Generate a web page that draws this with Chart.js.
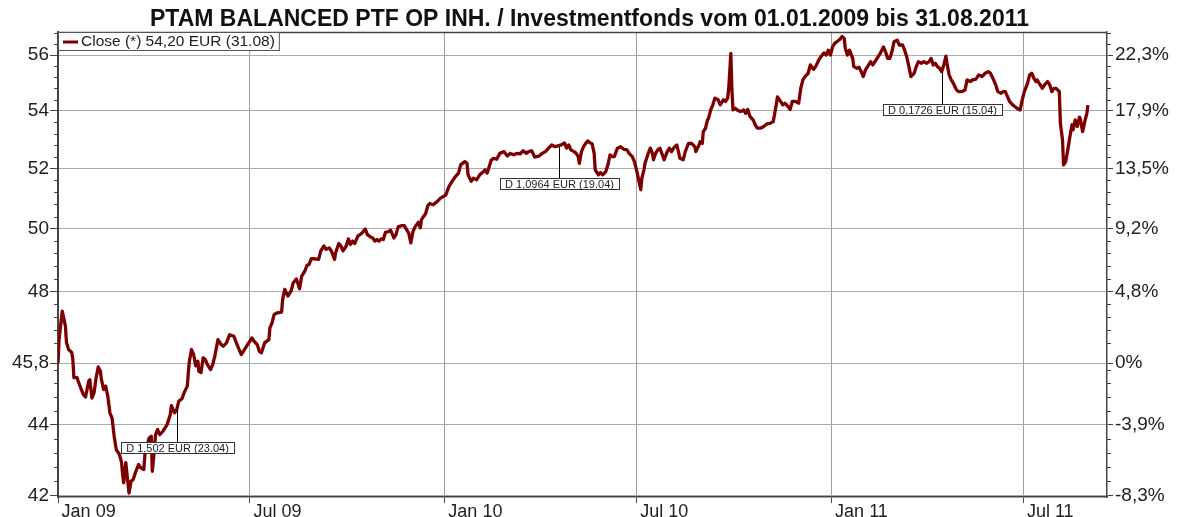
<!DOCTYPE html>
<html>
<head>
<meta charset="utf-8">
<script src="https://cdn.jsdelivr.net/npm/chart.js@4.4.1/dist/chart.umd.min.js"></script>
<style>
  html, body { margin: 0; padding: 0; background: #fff; }
  #wrap { width: 1179px; height: 517px; }
</style>
</head>
<body>
<div id="wrap"><canvas id="fundChart"></canvas></div>
<script>
// days counted from 01.01.2009, close in EUR
const days = [
  0, 1, 4, 7, 8, 10, 13, 14, 15, 18, 19, 22, 24, 26, 29, 30, 32, 34, 36, 38, 40, 41, 43, 45, 47, 49, 51, 53, 55, 58,
  60, 61, 62, 64, 66, 67, 69, 71, 73, 76, 78, 81, 82, 84, 86, 88, 89, 91, 92, 94, 96, 99, 103, 106, 107, 110, 112, 114, 117, 119,
  122, 123, 124, 126, 128, 130, 132, 133, 135, 137, 139, 141, 144, 146, 148, 151, 154, 156, 159, 162, 166, 169, 171, 173, 176, 178, 181, 183, 185, 188,
  190, 192, 195, 199, 200, 202, 204, 207, 211, 212, 214, 217, 220, 222, 225, 228, 230, 233, 235, 237, 239, 242, 246, 248, 251, 253, 256, 258, 261, 262,
  265, 267, 269, 272, 274, 276, 278, 280, 283, 285, 287, 290, 292, 295, 297, 299, 301, 303, 305, 307, 309, 312, 314, 317, 319, 321, 324, 327, 329, 331,
  333, 335, 337, 340, 342, 343, 347, 349, 351, 354, 358, 361, 364, 366, 369, 372, 375, 378, 380, 384, 386, 387, 390, 392, 395, 398, 400, 403, 405, 406,
  409, 411, 414, 417, 421, 424, 427, 430, 433, 436, 439, 442, 444, 447, 450, 454, 457, 460, 463, 466, 469, 472, 475, 478, 480, 482, 484, 487, 489, 491,
  492, 494, 496, 498, 500, 502, 504, 506, 507, 510, 512, 514, 517, 519, 521, 523, 525, 528, 531, 534, 537, 539, 542, 544, 546, 548, 550, 551, 553, 554,
  557, 559, 561, 562, 564, 566, 568, 571, 572, 575, 577, 579, 582, 584, 587, 590, 592, 595, 598, 601, 602, 605, 606, 608, 609, 611, 613, 614, 616, 618,
  620, 623, 625, 628, 630, 632, 633, 635, 636, 637, 639, 641, 644, 647, 649, 651, 653, 656, 658, 660, 663, 666, 669, 672, 675, 677, 679, 682, 684, 686,
  689, 691, 693, 696, 699, 701, 703, 705, 708, 710, 713, 715, 718, 720, 723, 725, 727, 729, 731, 733, 735, 738, 740, 742, 743, 745, 747, 750, 751, 754,
  756, 758, 760, 762, 764, 767, 769, 772, 774, 776, 779, 781, 783, 785, 787, 789, 792, 794, 797, 799, 801, 803, 805, 808, 810, 812, 815, 817, 820, 822,
  824, 826, 828, 830, 832, 834, 836, 838, 839, 841, 843, 845, 848, 850, 853, 856, 858, 861, 863, 866, 869, 872, 875, 878, 880, 883, 885, 887, 890, 892,
  894, 896, 898, 901, 903, 905, 908, 910, 912, 915, 917, 919, 921, 923, 924, 927, 929, 931, 934, 936, 938, 940, 942, 945, 946, 948, 949, 951, 953, 955,
  957, 958, 960, 962, 964, 965, 967, 969, 971, 972
];
const closes = [
  45.80, 46.51, 47.38, 46.92, 46.42, 46.21, 46.12, 45.91, 45.37, 45.37, 45.27, 45.02, 44.87, 44.80, 45.27, 45.31, 44.77, 44.92, 45.37, 45.69, 45.56, 45.31, 45.02, 45.12, 44.82, 44.34, 44.19, 43.67, 43.29, 43.15,
  42.92, 42.59, 42.36, 42.92, 42.36, 42.08, 42.41, 42.45, 42.64, 42.87, 42.78, 42.73, 43.15, 43.38, 43.62, 43.67, 42.68, 43.29, 43.71, 43.86, 43.71, 43.81, 44.00, 44.29, 44.55, 44.34, 44.43, 44.68, 44.75, 44.92,
  45.12, 45.52, 45.86, 46.21, 46.06, 45.72, 45.86, 45.56, 45.52, 45.96, 45.91, 45.76, 45.61, 45.76, 46.01, 46.51, 46.36, 46.31, 46.41, 46.66, 46.61, 46.36, 46.21, 46.06, 46.21, 46.31, 46.46, 46.56, 46.46, 46.36,
  46.16, 46.11, 46.41, 46.51, 46.87, 47.02, 47.28, 47.33, 47.35, 47.74, 48.06, 47.85, 48.01, 48.27, 48.39, 48.08, 48.48, 48.64, 48.82, 48.85, 49.03, 49.03, 49.01, 49.28, 49.44, 49.33, 49.38, 49.28, 49.01, 49.22,
  49.52, 49.44, 49.28, 49.44, 49.67, 49.49, 49.60, 49.52, 49.76, 49.81, 49.86, 49.99, 49.81, 49.73, 49.70, 49.60, 49.65, 49.60, 49.67, 49.65, 49.88, 49.91, 49.95, 49.70, 49.81, 50.06, 50.10, 50.10, 49.97, 49.86,
  49.54, 49.91, 50.06, 50.21, 50.03, 50.30, 50.50, 50.76, 50.83, 50.79, 50.90, 51.01, 51.07, 51.12, 51.40, 51.57, 51.73, 51.85, 52.13, 52.24, 52.18, 51.79, 51.57, 51.68, 51.62, 51.79, 51.85, 51.96, 51.85, 51.96,
  52.30, 52.35, 52.32, 52.52, 52.58, 52.43, 52.52, 52.47, 52.52, 52.50, 52.61, 52.52, 52.58, 52.61, 52.39, 52.43, 52.52, 52.58, 52.70, 52.81, 52.75, 52.78, 52.81, 52.88, 52.70, 52.81, 52.64, 52.58, 52.52, 52.41,
  52.18, 52.58, 52.75, 52.86, 52.95, 52.88, 52.86, 52.52, 51.96, 51.79, 51.87, 51.79, 51.90, 52.13, 52.47, 52.41, 52.41, 52.70, 52.75, 52.66, 52.64, 52.52, 52.41, 52.24, 51.96, 51.62, 51.29, 51.68, 51.96, 52.18,
  52.52, 52.70, 52.52, 52.30, 52.52, 52.64, 52.70, 52.41, 52.30, 52.58, 52.70, 52.58, 52.75, 52.81, 52.35, 52.30, 52.58, 52.86, 52.86, 52.75, 52.58, 52.81, 52.92, 52.86, 53.27, 53.38, 53.68, 53.74, 54.03, 54.21,
  54.45, 54.39, 54.21, 54.39, 54.33, 54.45, 54.80, 56.06, 54.74, 54.03, 54.09, 54.03, 53.97, 54.03, 53.91, 54.05, 53.80, 53.68, 53.51, 53.39, 53.39, 53.45, 53.54, 53.56, 53.62, 54.03, 54.49, 54.33, 54.21, 54.27,
  54.15, 54.05, 54.33, 54.33, 54.27, 54.80, 55.10, 55.22, 55.34, 55.64, 55.48, 55.58, 55.82, 55.94, 56.08, 56.00, 56.18, 56.00, 56.30, 56.43, 56.49, 56.58, 56.68, 56.61, 56.25, 56.00, 56.18, 55.88, 55.58, 55.52,
  55.56, 55.40, 55.22, 55.46, 55.58, 55.76, 55.64, 55.82, 55.94, 56.06, 56.30, 56.12, 55.88, 55.88, 56.12, 56.49, 56.55, 56.37, 56.37, 56.18, 55.94, 55.58, 55.22, 55.34, 55.58, 55.76, 55.70, 55.76, 55.70, 55.76,
  55.88, 55.64, 55.70, 55.58, 55.52, 55.40, 55.64, 55.96, 55.70, 55.28, 55.10, 54.98, 54.74, 54.68, 54.68, 54.74, 55.10, 55.04, 55.10, 55.12, 55.28, 55.22, 55.34, 55.40, 55.34, 55.10, 54.92, 54.68, 54.62, 54.68,
  54.68, 54.51, 54.33, 54.21, 54.15, 54.09, 54.03, 54.39, 54.68, 54.98, 55.28, 55.34, 55.16, 55.04, 55.10, 54.92, 54.80, 54.92, 55.04, 54.92, 54.68, 54.80, 54.80, 54.68, 53.56, 52.99, 52.13, 52.24, 52.64, 53.10,
  53.51, 53.33, 53.68, 53.45, 53.78, 53.68, 53.27, 53.62, 53.91, 54.20
];

const xTicks = [0, 181, 365, 546, 730, 911];
const xTickLabels = ['Jan 09', 'Jul 09', 'Jan 10', 'Jul 10', 'Jan 11', 'Jul 11'];
const yTicks = [42, 44, 45.8, 48, 50, 52, 54, 56];
const yTickLabels = ['42', '44', '45,8', '48', '50', '52', '54', '56'];
const pctTickLabels = ['-8,3%', '-3,9%', '0%', '4,8%', '9,2%', '13,5%', '17,9%', '22,3%'];
const dividendDays = [112, 473, 834];
const dividendLabels = ['D 1,502 EUR (23.04)', 'D 1,0964 EUR (19.04)', 'D 0,1726 EUR (15.04)'];
const legendText = 'Close (*) 54,20 EUR (31.08)';

const LINE = '#7d0000';
const AXIS = '#444';
const FONT = 'Liberation Sans, Arial, sans-serif';

// frame top edge, minor ticks, legend box, dividend marks
const extras = {
  id: 'extras',
  afterDraw(chart) {
    const { ctx, chartArea: a, scales } = chart;
    ctx.save();
    ctx.strokeStyle = AXIS;
    ctx.lineWidth = 1.5;
    ctx.beginPath();
    ctx.moveTo(a.left, a.top + 0.5);
    ctx.lineTo(a.right, a.top + 0.5);
    ctx.stroke();

    ctx.lineWidth = 1;
    for (let i = 1; i <= 37; i++) {
      const v = 42 + i * 0.4;
      if (i % 5 === 0) continue;
      const y = Math.round(scales.y.getPixelForValue(v)) + 0.5;
      ctx.beginPath();
      ctx.moveTo(a.left - 4, y); ctx.lineTo(a.left, y);
      ctx.moveTo(a.right, y); ctx.lineTo(a.right + 4, y);
      ctx.stroke();
    }

    // legend
    ctx.font = '15.5px ' + FONT;
    const lw = ctx.measureText(legendText).width + 27;
    ctx.fillStyle = '#fff';
    ctx.fillRect(a.left, a.top, lw, 18);
    ctx.strokeStyle = '#555';
    ctx.lineWidth = 1;
    ctx.strokeRect(a.left + 0.5, a.top + 0.5, lw, 18);
    ctx.strokeStyle = LINE;
    ctx.lineWidth = 3;
    ctx.beginPath();
    ctx.moveTo(a.left + 5, a.top + 10);
    ctx.lineTo(a.left + 20, a.top + 10);
    ctx.stroke();
    ctx.fillStyle = '#222';
    ctx.textBaseline = 'middle';
    ctx.textAlign = 'left';
    ctx.fillText(legendText, a.left + 23, a.top + 10);

    // dividends
    ctx.font = '11px ' + FONT;
    dividendDays.forEach((d, k) => {
      let j = 0;
      days.forEach((t, i) => { if (Math.abs(t - d) < Math.abs(days[j] - d)) j = i; });
      const x = Math.round(scales.x.getPixelForValue(d)) + 0.5;
      const y = scales.y.getPixelForValue(closes[j]);
      const w = ctx.measureText(dividendLabels[k]).width + 10;
      const top = Math.round(y + 32) + 0.5;
      ctx.strokeStyle = '#000';
      ctx.lineWidth = 1;
      ctx.beginPath();
      ctx.moveTo(x, y);
      ctx.lineTo(x, top);
      ctx.stroke();
      ctx.fillStyle = '#fff';
      ctx.fillRect(x - w / 2, top, w, 11);
      ctx.strokeStyle = '#333';
      ctx.strokeRect(Math.round(x - w / 2) + 0.5, top, Math.round(w), 11);
      ctx.fillStyle = '#222';
      ctx.textAlign = 'center';
      ctx.fillText(dividendLabels[k], x, top + 6);
    });
    ctx.restore();
  }
};

new Chart(document.getElementById('fundChart'), {
  type: 'line',
  data: {
    datasets: [{
      data: days.map((d, i) => ({ x: d, y: closes[i] })),
      borderColor: LINE,
      borderWidth: 3.3,
      pointRadius: 0,
      tension: 0,
      borderJoinStyle: 'round',
      yAxisID: 'y'
    }]
  },
  options: {
    responsive: true,
    maintainAspectRatio: false,
    animation: false,
    layout: { padding: 0 },
    scales: {
      x: {
        type: 'linear',
        min: 0,
        max: 990,
        afterBuildTicks: s => { s.ticks = xTicks.map(v => ({ value: v })); },
        afterFit: s => { s.height = 20; },
        ticks: {
          autoSkip: false,
          maxRotation: 0,
          align: 'start',
          padding: -2,
          color: '#222',
          font: { family: FONT, size: 18 },
          callback: v => '\u2009' + xTickLabels[xTicks.indexOf(v)]
        },
        grid: { color: '#a0a0a0', tickColor: AXIS, tickLength: 6 },
        border: { color: AXIS, width: 1.5 }
      },
      y: {
        type: 'logarithmic',
        position: 'left',
        min: 41.97,
        max: 56.85,
        bounds: 'data',
        afterBuildTicks: s => { s.ticks = yTicks.map(v => ({ value: v })); },
        afterFit: s => { s.width = 58; },
        ticks: {
          padding: 1,
          color: '#222',
          font: { family: FONT, size: 19 },
          callback: v => yTickLabels[yTicks.indexOf(v)]
        },
        grid: { color: '#ababab', tickColor: AXIS, tickLength: 8 },
        border: { color: AXIS, width: 2 }
      },
      y2: {
        type: 'logarithmic',
        position: 'right',
        min: 41.97,
        max: 56.85,
        bounds: 'data',
        afterBuildTicks: s => { s.ticks = yTicks.map(v => ({ value: v })); },
        afterFit: s => { s.width = 72; },
        ticks: {
          padding: 2,
          color: '#222',
          font: { family: FONT, size: 19 },
          callback: v => pctTickLabels[yTicks.indexOf(v)]
        },
        grid: { drawOnChartArea: false, tickColor: AXIS, tickLength: 6 },
        border: { color: AXIS, width: 1.5 }
      }
    },
    plugins: {
      legend: { display: false },
      tooltip: { enabled: false },
      title: {
        display: true,
        text: 'PTAM BALANCED PTF OP INH. / Investmentfonds vom 01.01.2009 bis 31.08.2011',
        color: '#111',
        font: { family: FONT, size: 23, weight: 'bold', lineHeight: 1 },
        padding: { top: 8, bottom: 1 }
      }
    }
  },
  plugins: [extras]
});
</script>
</body>
</html>
